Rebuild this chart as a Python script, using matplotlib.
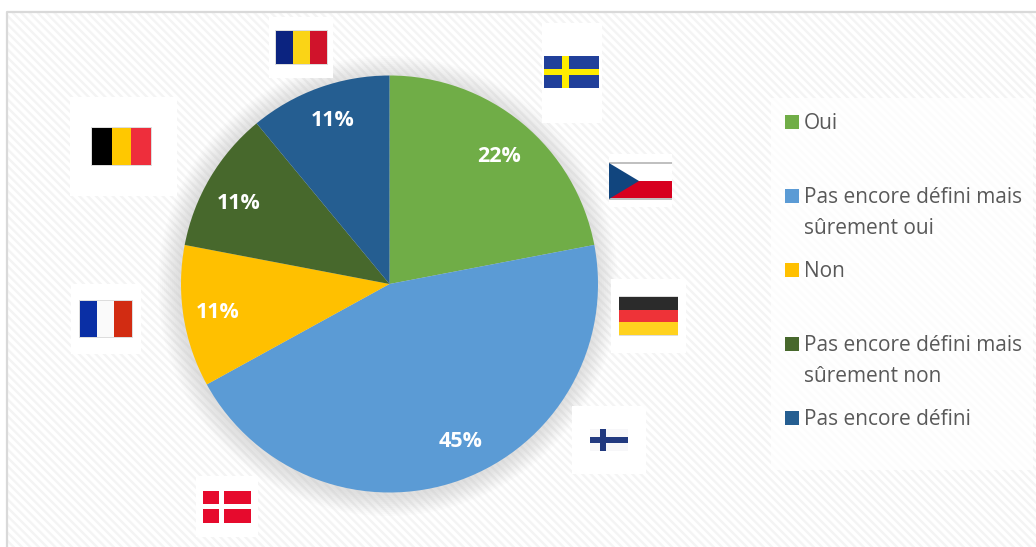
# pie chart with the country flags around it and a hand placed legend
import matplotlib
matplotlib.use("Agg")
import matplotlib.pyplot as plt
from matplotlib.patches import Rectangle, Circle, Polygon

plt.rcParams['font.family'] = ['Open Sans', 'DejaVu Sans']
plt.rcParams['hatch.linewidth'] = 1.7

labels = ['Oui', 'Pas encore défini mais\nsûrement oui', 'Non',
          'Pas encore défini mais\nsûrement non', 'Pas encore défini']
values = [22, 45, 11, 11, 11]
colors = ['#70ad47', '#5b9bd5', '#ffc000', '#47682c', '#255e91']

W, H = 1036, 547


def Y(y):
    # picture coordinates have y going down
    return H - y


def box(x0, y0, x1, y1, color, z=5, **kw):
    ax.add_patch(Rectangle((x0, Y(y1)), x1 - x0, y1 - y0, facecolor=color,
                           edgecolor='none', zorder=z, **kw))


def vstripes(x, y0, y1, cols):
    box(x[0] - 1, y0 - 1, x[-1] + 1, y1 + 1, '#dddddd', z=6)
    for i in range(len(cols)):
        box(x[i], y0, x[i + 1], y1, cols[i], z=6)


def hstripes(x0, x1, y, cols):
    box(x0, y[0] - 1, x1, y[-1] + 1, '#dddddd', z=6)
    for i in range(len(cols)):
        box(x0, y[i], x1, y[i + 1], cols[i], z=6)


fig = plt.figure(figsize=(W / 100, H / 100), dpi=100)
ax = fig.add_axes([0, 0, 1, 1])

# background with the diagonal stripes, grey frame only shows top and left
ax.add_patch(Rectangle((6, -5), W, Y(12) + 5, facecolor='white', edgecolor='#f4f4f4',
                       hatch='\\\\\\\\', linewidth=0, zorder=1))
ax.plot([6.5, 6.5, W], [0, Y(12), Y(12)], color='#d9d9d9', linewidth=1.6, zorder=2)

# soft shadow behind the pie
for r in range(230, 208, -2):
    ax.add_patch(Circle((388, Y(286)), r, facecolor='#808080', edgecolor='none',
                        alpha=0.018, zorder=3))

wedges, texts, autotexts = ax.pie(values, colors=colors, startangle=90, counterclock=False,
                                  center=(389.5, Y(284)), radius=208.5, autopct='%.0f%%',
                                  pctdistance=0.82, frame=False,
                                  wedgeprops={'zorder': 4, 'linewidth': 0},
                                  textprops={'zorder': 7})
# nudge the percent labels to where they sit in the picture
nudges = [(1, 4), (13, -3), (-3, 2), (-4, 7), (1, -3)]
for t, n in zip(autotexts, nudges):
    t.set_color('white')
    t.set_fontweight('bold')
    t.set_fontsize(15.5)
    t.set_position((t.get_position()[0] + n[0], t.get_position()[1] - n[1]))

# white boxes under the flags
for b in [(542, 23, 602, 123), (609, 154, 672, 207), (611, 279, 686, 353), (572, 406, 646, 474),
          (196, 476, 258, 537), (71, 284, 141, 354), (70, 97, 177, 196), (269, 17, 333, 78)]:
    box(*b, 'white')

# Sweden
box(544, 56, 599, 88, '#21409a', z=6)
box(562, 56, 569, 88, '#ffed00', z=7)
box(544, 69, 599, 75, '#ffed00', z=7)

# Czech republic
box(609, 162, 672, 200, '#c0c0c0', z=6)
box(609, 164, 672, 181, 'white', z=6)
box(609, 181, 672, 198, '#d7001f', z=6)
ax.add_patch(Polygon([(609, Y(163)), (639, Y(181)), (609, Y(199))], facecolor='#11457e',
                     edgecolor='none', zorder=7))

# Germany
hstripes(619, 678, [297, 310, 322, 335], ['#2b2b2b', '#ee3338', '#ffd21f'])

# Finland
box(590, 429, 628, 451, '#f7f7f9', z=6)
box(600, 429, 606, 451, '#21397f', z=7)
box(590, 437, 628, 443, '#21397f', z=7)

# Denmark
box(203, 491, 251, 523, '#e60a2d', z=6)
box(219, 491, 224, 523, 'white', z=7)
box(203, 504, 251, 509, 'white', z=7)

# France
vstripes([80, 97, 114, 132], 301, 337, ['#0a2fa5', '#fafafa', '#d22c12'])

# Belgium
vstripes([92, 112, 131, 151], 128, 165, ['#000000', '#ffc800', '#ee2e3c'])

# Romania
vstripes([276, 293, 310, 327], 31, 64, ['#0b2380', '#fad416', '#d0132b'])

# legend, spacing is not regular so it is placed by hand
box(771, 98, 1033, 470, 'white', alpha=0.75)
legend_y = [122, 196, 270, 344, 418]
for i in range(len(labels)):
    box(785, legend_y[i] - 7, 799, legend_y[i] + 7, colors[i], z=6)
    ax.text(804, Y(legend_y[i] - 9), labels[i], color='#595959', fontsize=15,
            ha='left', va='top', linespacing=1.62, zorder=7)

ax.set_xlim(0, W)
ax.set_ylim(0, H)
ax.set_axis_off()

fig.savefig('out.png', dpi=100)
